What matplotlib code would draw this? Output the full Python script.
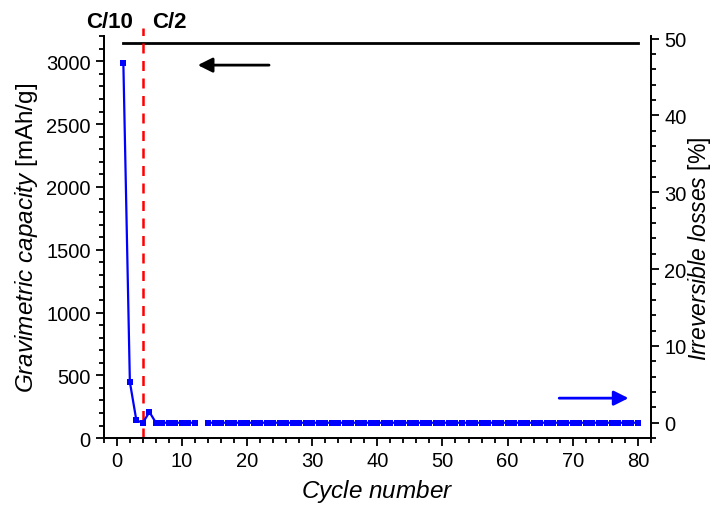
import numpy as np
import matplotlib
matplotlib.use('Agg')
import matplotlib.pyplot as plt
from matplotlib.ticker import MultipleLocator

plt.rcParams['font.family'] = ['Liberation Sans', 'DejaVu Sans']
plt.rcParams['mathtext.fontset'] = 'custom'
plt.rcParams['mathtext.it'] = 'Liberation Sans:italic'
plt.rcParams['mathtext.rm'] = 'Liberation Sans'

# data
cycles = np.arange(1, 81)
losses_first = [46.8, 5.3, 0.3, 0.0, 1.4]          # % for cycles 1-5
losses = np.array(losses_first + [0.0] * 75)
losses[12] = np.nan                                # cycle 13 missing
capacity = np.full(80, 3145.0)                     # mAh/g, flat
rate_switch = 4
rate_labels = ['C/10', 'C/2']

fig = plt.figure(figsize=(7.16, 5.10), dpi=100)
ax = fig.add_axes([0.145, 0.139, 0.764, 0.788])
ax2 = ax.twinx()

ax.plot(cycles, capacity, color='black', lw=2)
ax2.plot(cycles, losses, color='blue', lw=1.6, marker='s', ms=4, mew=0)

ax.axvline(rate_switch, color='red', ls=(0, (4, 3)), lw=1.8, ymin=0, ymax=1.02,
           clip_on=False)

ax.set_xlim(-2, 82)
ax.set_ylim(0, 3200)
ax2.set_ylim(-2, 50.3)

ax.xaxis.set_major_locator(MultipleLocator(10))
ax.xaxis.set_minor_locator(MultipleLocator(2))
ax.yaxis.set_major_locator(MultipleLocator(500))
ax.yaxis.set_minor_locator(MultipleLocator(100))
ax2.yaxis.set_major_locator(MultipleLocator(10))
ax2.yaxis.set_minor_locator(MultipleLocator(2))

for a in (ax, ax2):
    a.spines['top'].set_visible(False)
    for s in a.spines.values():
        s.set_linewidth(1.3)
    a.tick_params(which='major', length=6, width=1.3, labelsize=14.5)
    a.tick_params(which='minor', length=3.5, width=1.3)

ax.set_xlabel(r'$\mathit{Cycle\ number}$', fontsize=17.5, labelpad=5)
ax.set_ylabel(r'$\mathit{Gravimetric\ capacity}$ [mAh/g]', fontsize=17.5, labelpad=4)
ax2.set_ylabel(r'$\mathit{Irreversible\ losses}$ [%]', fontsize=16.5)
ax2.yaxis.set_label_coords(1.065, 0.473)

ax.text(rate_switch - 1.5, 1.037, rate_labels[0], transform=ax.get_xaxis_transform(),
        ha='right', va='center', fontsize=16, fontweight='bold')
ax.text(rate_switch + 1.4, 1.037, rate_labels[1], transform=ax.get_xaxis_transform(),
        ha='left', va='center', fontsize=16, fontweight='bold')

ax.annotate('', xy=(12, 2970), xytext=(23.8, 2970),
            arrowprops=dict(arrowstyle='-|>', color='black', lw=2,
                            mutation_scale=22))
ax2.annotate('', xy=(79, 3.2), xytext=(67.5, 3.2),
             arrowprops=dict(arrowstyle='-|>', color='blue', lw=2,
                             mutation_scale=22))

plt.savefig('out.png', dpi=100)
